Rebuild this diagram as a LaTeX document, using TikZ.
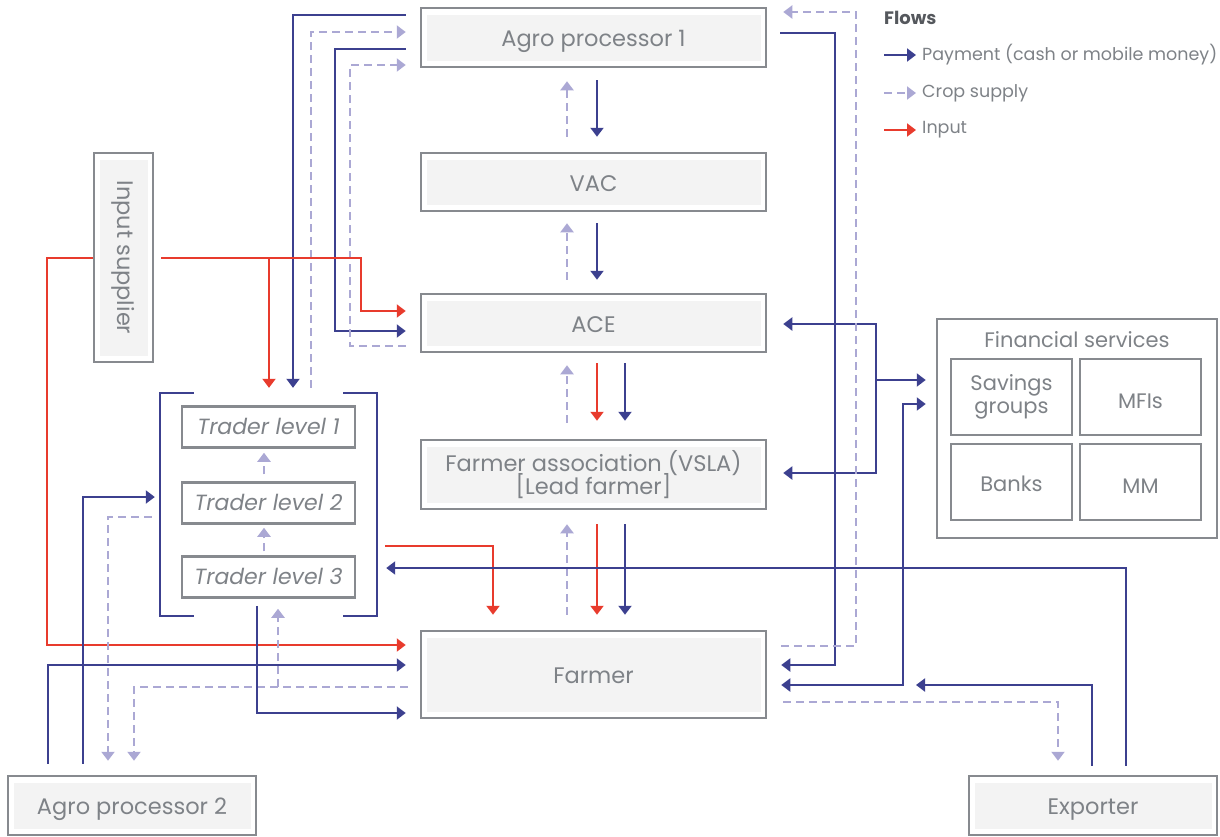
\documentclass[tikz,border=0pt]{standalone}
\usepackage{fontspec}
\setmainfont{Poppins}
\usetikzlibrary{arrows.meta,calc}
\definecolor{boxgray}{HTML}{878A8F}
\definecolor{fillgray}{HTML}{F3F3F3}
\definecolor{txtgray}{HTML}{7E8287}
\definecolor{darktxt}{HTML}{55585D}
\definecolor{navy}{HTML}{3C408F}
\definecolor{lav}{HTML}{ABA8D4}
\definecolor{redin}{HTML}{E83B2D}
\newcommand\myboxfont{\fontsize{22.5}{24}\selectfont}
\newcommand\mytrfont{\fontsize{22}{24}\selectfont\itshape}
\newcommand\myfinfont{\fontsize{21}{23}\selectfont}
\newcommand\mylegfont{\fontsize{17.5}{20}\selectfont}
\tikzset{
  pay/.style={draw=navy,line width=2pt,-{Triangle[length=9pt,width=13pt]}},
  crop/.style={draw=lav,line width=2pt,dash pattern=on 8pt off 5pt,-{Triangle[length=9pt,width=13pt]}},
  inp/.style={draw=redin,line width=2pt,-{Triangle[length=9pt,width=13pt]}},
  both/.style={{Triangle[length=9pt,width=13pt]}-{Triangle[length=9pt,width=13pt]}},
  mainbox/.style={draw=boxgray,line width=2.5pt,fill=white,text=txtgray,font=\myboxfont,
    align=center,inner sep=0pt,
    path picture={\fill[fillgray] ([shift={(5.5pt,-6.5pt)}]path picture bounding box.north west)
      rectangle ([shift={(-5.5pt,6.5pt)}]path picture bounding box.south east);}},
  oneline/.style={text height=18pt,text depth=0pt},
  tbox/.style={draw=boxgray,line width=2.5pt,fill=white,text=txtgray,font=\mytrfont,
    minimum width=173pt,minimum height=41pt,inner sep=0pt,text height=16pt,text depth=2pt},
  fbox/.style={draw=boxgray,line width=2.5pt,fill=white,text=txtgray,font=\myfinfont,
    minimum width=121pt,minimum height=76pt,inner sep=0pt,align=center},
  legtext/.style={anchor=west,inner sep=0pt,text=txtgray,font=\mylegfont},
  bracket/.style={draw=navy,line width=2pt}
}
\begin{document}
\begin{tikzpicture}[x=1pt,y=-1pt]
\useasboundingbox (0,0) rectangle (1220,836);

% main column
\node[mainbox,oneline,minimum width=345pt,minimum height=59pt] (ap1) at (593.5,37.5) {Agro processor 1};
\node[mainbox,oneline,minimum width=345pt,minimum height=58pt] (vac) at (593.5,182) {VAC};
\node[mainbox,oneline,minimum width=345pt,minimum height=58pt] (ace) at (593.5,323) {ACE};
\node[mainbox,minimum width=345pt,minimum height=69pt] (fa) at (593.5,474.5) {Farmer association (VSLA)\\[-4pt]{}[Lead farmer]};
\node[mainbox,oneline,minimum width=345pt,minimum height=87pt] (farmer) at (593.5,674.5) {Farmer};

% side boxes
\node[mainbox,minimum width=59pt,minimum height=209pt] (insup) at (123.5,257.5) {\rotatebox{-90}{Input supplier}};
\node[mainbox,oneline,minimum width=248pt,minimum height=59pt] (ap2) at (132,805.5) {Agro processor 2};
\node[mainbox,oneline,minimum width=248pt,minimum height=59pt] (exporter) at (1093,805.5) {Exporter};

% traders
\node[minimum width=217pt,minimum height=223pt,inner sep=0pt] (traders) at (268.5,504.5) {};
\draw[bracket] ([xshift=34pt]traders.north west) -- (traders.north west) -- (traders.south west) -- ([xshift=34pt]traders.south west);
\draw[bracket] ([xshift=-34pt]traders.north east) -- (traders.north east) -- (traders.south east) -- ([xshift=-34pt]traders.south east);
\node[tbox] (tr1) at (268.5,427) {Trader level 1};
\node[tbox] (tr2) at (268.5,503) {Trader level 2};
\node[tbox] (tr3) at (268.5,577) {Trader level 3};

% financial services
\node[draw=boxgray,line width=2.5pt,minimum width=280pt,minimum height=219pt,inner sep=0pt] (fs) at (1077,428.5) {};
\node[text=txtgray,font=\myfinfont,inner sep=0pt,text height=16pt,text depth=0pt] (fstitle) at (1077,339) {Financial services};
\node[fbox] (sav) at (1011.5,397) {Savings\\groups};
\node[fbox,text height=22pt,text depth=0pt] (mfi) at (1140.5,397) {MFIs};
\node[fbox,text height=18pt,text depth=0pt] (bank) at (1011.5,482) {Banks};
\node[fbox,text height=22pt,text depth=0pt] (mm) at (1140.5,482) {MM};

% legend
\node[anchor=west,inner sep=0pt,text=darktxt,font=\fontsize{18}{20}\selectfont\bfseries] (flows) at (884,18) {Flows};
\coordinate (l1a) at (884,55); \coordinate (l1b) at (916,55);
\coordinate (l2a) at (884,93); \coordinate (l2b) at (916,93);
\coordinate (l3a) at (884,130); \coordinate (l3b) at (916,130);
\draw[pay] (l1a) -- (l1b);
\draw[crop] (l2a) -- (l2b);
\draw[inp] (l3a) -- (l3b);
\node[legtext] (leg1) at (922,55) {Payment (cash or mobile money)};
\node[legtext] (leg2) at (922,93) {Crop supply};
\node[legtext] (leg3) at (922,130) {Input};

% AP1 left side
\draw[pay,shorten <=14pt,shorten >=5pt] (ap1.west |- 0,15) -- (293,15) -- (293,0 |- traders.north);
\draw[crop,shorten <=5pt,shorten >=14pt] (311,0 |- traders.north) -- (311,32) -- (ap1.west |- 0,32);
\draw[pay,shorten <=14pt,shorten >=14pt] (ap1.west |- 0,49) -- (335,49) -- (335,331) -- (ace.west |- 0,331);
\draw[crop,shorten <=14pt,shorten >=14pt] (ace.west |- 0,346) -- (350,346) -- (350,65) -- (ap1.west |- 0,65);

% input supplier
\draw[inp,shorten <=7pt,shorten >=14pt] (insup.east |- 0,258) -- (361,258) -- (361,311) -- (ace.west |- 0,311);
\draw[inp,shorten >=5pt] (269,258) -- (269,0 |- traders.north);
\draw[inp,shorten >=14pt] (insup.west |- 0,258) -- (47,258) -- (47,645) -- (farmer.west |- 0,645);

% centre column
\draw[crop,shorten <=15pt,shorten >=13pt] (567,0 |- vac.north) -- (567,0 |- ap1.south);
\draw[pay,shorten <=12pt,shorten >=15pt] (597,0 |- ap1.south) -- (597,0 |- vac.north);
\draw[crop,shorten <=13pt,shorten >=11pt] (567,0 |- ace.north) -- (567,0 |- vac.south);
\draw[pay,shorten <=11pt,shorten >=13pt] (597,0 |- vac.south) -- (597,0 |- ace.north);
\draw[crop,shorten <=16pt,shorten >=12pt] (567,0 |- fa.north) -- (567,0 |- ace.south);
\draw[inp,shorten <=10pt,shorten >=18pt] (597,0 |- ace.south) -- (597,0 |- fa.north);
\draw[pay,shorten <=10pt,shorten >=18pt] (625,0 |- ace.south) -- (625,0 |- fa.north);
\draw[crop,shorten <=15pt,shorten >=14pt] (567,0 |- farmer.north) -- (567,0 |- fa.south);
\draw[inp,shorten <=14pt,shorten >=15pt] (597,0 |- fa.south) -- (597,0 |- farmer.north);
\draw[pay,shorten <=14pt,shorten >=15pt] (625,0 |- fa.south) -- (625,0 |- farmer.north);

% traders internal
\draw[crop,shorten <=7pt,shorten >=4pt] (264,0 |- tr2.north) -- (264,0 |- tr1.south);
\draw[crop,shorten <=4pt,shorten >=3pt] (264,0 |- tr3.north) -- (264,0 |- tr2.south);

% traders <-> farmer, exporter
\draw[inp,shorten <=8pt,shorten >=15pt] (traders.east |- 0,546) -- (493,546) -- (493,0 |- farmer.north);
\draw[pay,shorten <=9pt,shorten >=9pt] (1126,0 |- exporter.north) -- (1126,568) -- (traders.east |- 0,568);

% exporter / financial services
\coordinate (expj) at (916,685);
\draw[pay,shorten <=9pt] (1092,0 |- exporter.north) -- (1092,685) -- (expj);
\draw[pay,both,shorten <=14pt,shorten >=10pt] (farmer.east |- 0,685) -- (903,685) -- (903,404) -- (fs.west |- 0,404);
\draw[pay,both,shorten <=16pt,shorten >=16pt] (ace.east |- 0,324) -- (876,324) -- (876,473) -- (fa.east |- 0,473);
\draw[pay,shorten >=10pt] (876,380) -- (fs.west |- 0,380);

% AP1 right side
\draw[pay,shorten <=13pt,shorten >=14pt] (ap1.east |- 0,33) -- (835,33) -- (835,665) -- (farmer.east |- 0,665);
\draw[crop,shorten <=14pt,shorten >=16pt] (farmer.east |- 0,646) -- (856,646) -- (856,12) -- (ap1.east |- 0,12);
\draw[crop,shorten <=16pt,shorten >=14pt] (farmer.east |- 0,702) -- (1058,702) -- (1058,0 |- exporter.north);

% AP2
\draw[pay,shorten <=11pt,shorten >=14pt] (48,0 |- ap2.north) -- (48,665) -- (farmer.west |- 0,665);
\draw[pay,shorten <=11pt,shorten >=5pt] (83,0 |- ap2.north) -- (83,497) -- (traders.west |- 0,497);
\draw[crop,shorten <=8pt,shorten >=14pt] (traders.west |- 0,517) -- (108,517) -- (108,0 |- ap2.north);
\draw[crop,shorten <=12pt,shorten >=14pt] (farmer.west |- 0,687) -- (134,687) -- (134,0 |- ap2.north);
\draw[crop,shorten >=10pt] (278,687) -- (278,0 |- tr3.south);
\draw[pay,shorten <=7pt,shorten >=14pt] (257,0 |- tr3.south) -- (257,713) -- (farmer.west |- 0,713);
\end{tikzpicture}
\end{document}
